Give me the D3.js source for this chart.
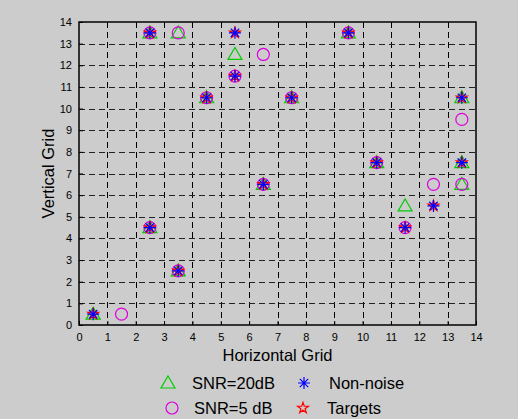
<!DOCTYPE html>
<html>
<head>
<meta charset="utf-8">
<script src="https://cdn.jsdelivr.net/npm/d3@7"></script>
<style>
  body { margin: 0; background: #cccccc; }
  svg { display: block; font-family: "Liberation Sans", Arial, sans-serif; }
</style>
</head>
<body>
<svg id="chart"></svg>
<script>
var width = 518;
var height = 419;

// data
var targets = [
  [0.5, 0.5], [2.5, 4.5], [2.5, 13.5], [3.5, 2.5], [4.5, 10.5],
  [5.5, 11.5], [5.5, 13.5], [6.5, 6.5], [7.5, 10.5], [9.5, 13.5],
  [10.5, 7.5], [11.5, 4.5], [12.5, 5.5], [13.5, 7.5], [13.5, 10.5]
];
var nonNoise = targets.slice();
var snr20 = [
  [0.5, 0.5], [2.5, 4.5], [2.5, 13.5], [3.5, 2.5], [3.5, 13.5],
  [4.5, 10.5], [5.5, 12.5], [6.5, 6.5], [7.5, 10.5], [9.5, 13.5],
  [10.5, 7.5], [11.5, 5.5], [13.5, 6.5], [13.5, 7.5], [13.5, 10.5]
];
var snr5 = [
  [1.5, 0.5], [2.5, 4.5], [2.5, 13.5], [3.5, 2.5], [3.5, 13.5],
  [4.5, 10.5], [5.5, 11.5], [6.5, 12.5], [6.5, 6.5], [7.5, 10.5],
  [9.5, 13.5], [10.5, 7.5], [11.5, 4.5], [12.5, 6.5], [13.5, 9.5],
  [13.5, 6.5]
];
var xTicks = d3.range(0, 15);
var yTicks = d3.range(0, 15);

var svg = d3.select("#chart").attr("width", width).attr("height", height);

var plotLeft = 79, plotRight = 476, plotTop = 22, plotBottom = 325;

var x = d3.scaleLinear().domain([0, 14]).range([plotLeft, plotRight]);
var y = d3.scaleLinear().domain([0, 14]).range([plotBottom, plotTop]);

// grid
svg.append("g")
  .selectAll("line")
  .data(xTicks.slice(1, -1))
  .enter()
  .append("line")
  .attr("x1", function (d) { return Math.round(x(d)) + 0.5; })
  .attr("x2", function (d) { return Math.round(x(d)) + 0.5; })
  .attr("y1", plotTop)
  .attr("y2", plotBottom)
  .attr("stroke", "#000")
  .attr("stroke-width", 1)
  .attr("stroke-dasharray", "6,4");

svg.append("g")
  .selectAll("line")
  .data(yTicks.slice(1, -1))
  .enter()
  .append("line")
  .attr("y1", function (d) { return Math.round(y(d)) + 0.5; })
  .attr("y2", function (d) { return Math.round(y(d)) + 0.5; })
  .attr("x1", plotLeft)
  .attr("x2", plotRight)
  .attr("stroke", "#222")
  .attr("stroke-width", 1)
  .attr("stroke-dasharray", "6,4");

// axes
var xAxis = svg.append("g")
  .attr("transform", "translate(0," + plotBottom + ")")
  .call(d3.axisBottom(x).tickValues(xTicks).tickSizeInner(-4).tickSizeOuter(0).tickPadding(8));
var yAxis = svg.append("g")
  .attr("transform", "translate(" + plotLeft + ",0)")
  .call(d3.axisLeft(y).tickValues(yTicks).tickSizeInner(-4).tickSizeOuter(0).tickPadding(7));

[xAxis, yAxis].forEach(function (a) {
  a.select(".domain").remove();
  a.selectAll("text").attr("font-size", 11).attr("fill", "#000")
    .attr("font-family", "Liberation Sans, Arial, sans-serif");
  a.selectAll("line").attr("stroke", "#000");
});

// box
svg.append("rect")
  .attr("x", plotLeft)
  .attr("y", plotTop)
  .attr("width", plotRight - plotLeft)
  .attr("height", plotBottom - plotTop)
  .attr("fill", "none")
  .attr("stroke", "#000")
  .attr("stroke-width", 1.5);

// markers
var triPath = "M0,-7L7,5L-7,5Z";
var circPath = d3.symbol().type(d3.symbolCircle).size(Math.PI * 36)();
var starPath = d3.symbol().type(d3.symbolStar).size(36)();
var astPath = "M-6,0L6,0M0,-6L0,6M-4.2,-4.2L4.2,4.2M-4.2,4.2L4.2,-4.2";

function drawMarks(data, path, color) {
  svg.append("g")
    .selectAll("path")
    .data(data)
    .enter()
    .append("path")
    .attr("transform", function (d) { return "translate(" + x(d[0]) + "," + y(d[1]) + ")"; })
    .attr("d", path)
    .attr("fill", "none")
    .attr("stroke", color)
    .attr("stroke-width", 1.2);
}

drawMarks(snr20, triPath, "#00cc00");
drawMarks(snr5, circPath, "#dd00dd");
drawMarks(targets, starPath, "#ff0000");
drawMarks(nonNoise, astPath, "#0000ff");

// axis titles
svg.append("text")
  .attr("x", (plotLeft + plotRight) / 2)
  .attr("y", 361)
  .attr("text-anchor", "middle")
  .attr("font-size", 16.5)
  .text("Horizontal Grid");

svg.append("text")
  .attr("transform", "translate(54," + (plotTop + plotBottom) / 2 + ") rotate(-90)")
  .attr("text-anchor", "middle")
  .attr("font-size", 16.5)
  .text("Vertical Grid");

// legend
var legendItems = [
  { label: "SNR=20dB", path: triPath, color: "#00cc00", mx: 168, tx: 192, yy: 383 },
  { label: "Non-noise", path: astPath, color: "#0000ff", mx: 304, tx: 329, yy: 383 },
  { label: "SNR=5 dB", path: circPath, color: "#dd00dd", mx: 172, tx: 194, yy: 408 },
  { label: "Targets", path: starPath, color: "#ff0000", mx: 303, tx: 327, yy: 408 }
];

var legend = svg.append("g")
  .selectAll("g")
  .data(legendItems)
  .enter()
  .append("g");

legend.append("path")
  .attr("transform", function (d) { return "translate(" + d.mx + "," + d.yy + ")"; })
  .attr("d", function (d) { return d.path; })
  .attr("fill", "none")
  .attr("stroke", function (d) { return d.color; })
  .attr("stroke-width", 1.2);

legend.append("text")
  .attr("x", function (d) { return d.tx; })
  .attr("y", function (d) { return d.yy + 6; })
  .attr("font-size", 16.5)
  .text(function (d) { return d.label; });
</script>
</body>
</html>
